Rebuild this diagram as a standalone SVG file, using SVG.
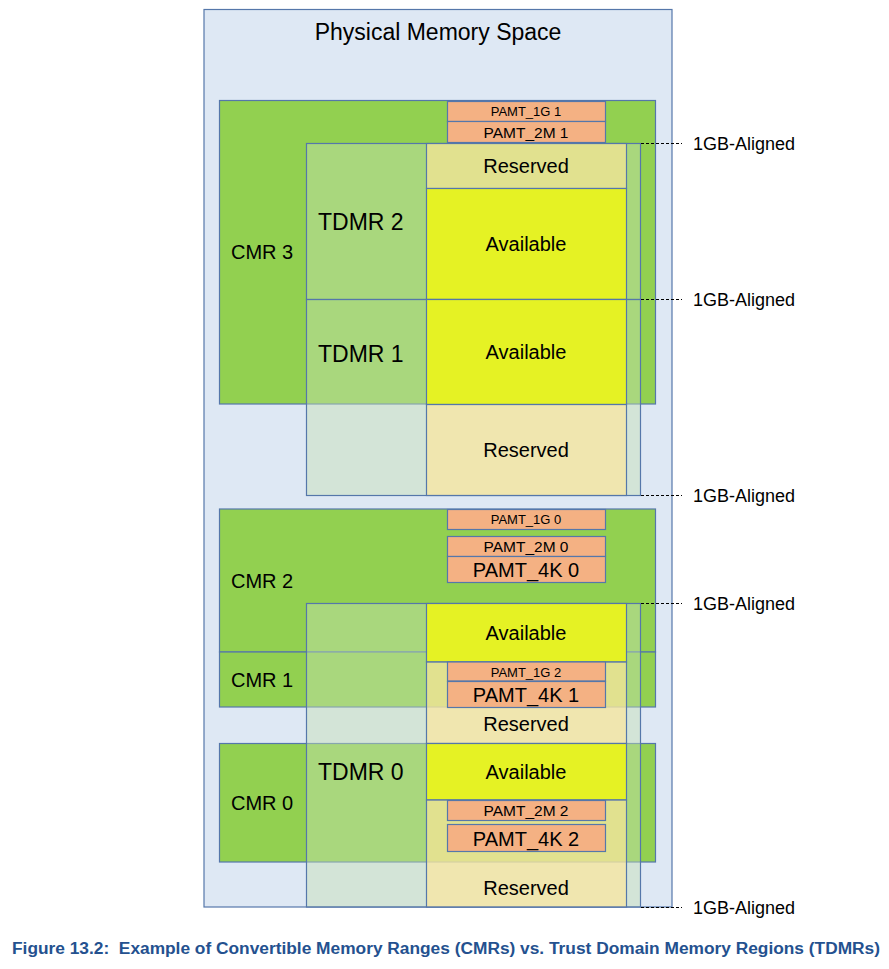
<svg xmlns="http://www.w3.org/2000/svg" width="889" height="969" viewBox="0 0 889 969">
<style>
text{font-family:"Liberation Sans",Arial,sans-serif;fill:#000}
.box{stroke:#5577aa;stroke-width:1.2}
.outer{fill:#dee8f4}
.cmr{fill:#92d050}
.pamt{fill:#f4b183}
.tdmr{fill:#c5e0b4;fill-opacity:0.45}
.res{fill:#ffe699;fill-opacity:0.65}
.avail{fill:#e5f224}
.dash{stroke:#000;stroke-width:1;stroke-dasharray:3,2}
.lbl{font-size:18px}
.c{text-anchor:middle}
.cap{font-family:"Liberation Sans Narrow","Liberation Sans",Arial,sans-serif;font-weight:bold;fill:#24518f;font-size:16px}
</style>
<rect width="889" height="969" fill="#fff"/>
<g id="physical-memory-space">
<rect class="box outer" x="204" y="9.5" width="468" height="897.5"/>
<text x="438" y="40" class="c" style="font-size:23px">Physical Memory Space</text>
</g>
<g id="cmr3">
<rect class="box cmr" x="219.5" y="100.5" width="436" height="303.5"/>
<text x="231" y="259" style="font-size:20px">CMR 3</text>
</g>
<g id="cmr2">
<rect class="box cmr" x="219.5" y="509" width="436" height="143"/>
<text x="231" y="588" style="font-size:20px">CMR 2</text>
</g>
<g id="cmr1">
<rect class="box cmr" x="219.5" y="652" width="436" height="55"/>
<text x="231" y="687" style="font-size:20px">CMR 1</text>
</g>
<g id="cmr0">
<rect class="box cmr" x="219.5" y="743.5" width="436" height="118.5"/>
<text x="231" y="810" style="font-size:20px">CMR 0</text>
</g>
<g id="pamt-1g-1">
<rect class="box pamt" x="447.5" y="101.5" width="158" height="20"/>
<text x="526" y="116" class="c" style="font-size:13px">PAMT_1G 1</text>
</g>
<g id="pamt-2m-1">
<rect class="box pamt" x="447.5" y="121.5" width="158" height="21"/>
<text x="526" y="138" class="c" style="font-size:15.5px">PAMT_2M 1</text>
</g>
<g id="pamt-1g-0">
<rect class="box pamt" x="447.5" y="509.5" width="158" height="20"/>
<text x="526" y="524" class="c" style="font-size:13px">PAMT_1G 0</text>
</g>
<g id="pamt-2m-0">
<rect class="box pamt" x="447.5" y="536.5" width="158" height="20"/>
<text x="526" y="552" class="c" style="font-size:15.5px">PAMT_2M 0</text>
</g>
<g id="pamt-4k-0">
<rect class="box pamt" x="447.5" y="556.5" width="158" height="26"/>
<text x="526" y="577" class="c" style="font-size:20px">PAMT_4K 0</text>
</g>
<g id="tdmr2">
<rect class="box tdmr" x="306.5" y="143.5" width="334" height="156"/>
<rect class="box res" x="426.5" y="143.5" width="200" height="45"/>
<rect class="box avail" x="426.5" y="188.5" width="200" height="111"/>
<text x="318" y="230" style="font-size:23px">TDMR 2</text>
<text x="526" y="173" class="c" style="font-size:20px">Reserved</text>
<text x="526" y="251" class="c" style="font-size:20px">Available</text>
</g>
<g id="tdmr1">
<rect class="box tdmr" x="306.5" y="299.5" width="334" height="196"/>
<rect class="box avail" x="426.5" y="299.5" width="200" height="105"/>
<rect class="box res" x="426.5" y="404.5" width="200" height="91"/>
<text x="318" y="362" style="font-size:23px">TDMR 1</text>
<text x="526" y="359" class="c" style="font-size:20px">Available</text>
<text x="526" y="457" class="c" style="font-size:20px">Reserved</text>
</g>
<g id="tdmr0">
<rect class="box tdmr" x="306.5" y="603.5" width="334" height="303.5"/>
<rect class="box avail" x="426.5" y="603.5" width="200" height="58.5"/>
<rect class="box res" x="426.5" y="662" width="200" height="81.5"/>
<rect class="box avail" x="426.5" y="743.5" width="200" height="56.5"/>
<rect class="box res" x="426.5" y="800" width="200" height="107"/>
<text x="318" y="780" style="font-size:23px">TDMR 0</text>
<text x="526" y="640" class="c" style="font-size:20px">Available</text>
<text x="526" y="731" class="c" style="font-size:20px">Reserved</text>
<text x="526" y="779" class="c" style="font-size:20px">Available</text>
<text x="526" y="895" class="c" style="font-size:20px">Reserved</text>
</g>
<g id="pamt-1g-2">
<rect class="box pamt" x="447.5" y="662" width="158" height="19"/>
<text x="526" y="677" class="c" style="font-size:13px">PAMT_1G 2</text>
</g>
<g id="pamt-4k-1">
<rect class="box pamt" x="447.5" y="681.5" width="158" height="26"/>
<text x="526" y="702" class="c" style="font-size:20px">PAMT_4K 1</text>
</g>
<g id="pamt-2m-2">
<rect class="box pamt" x="447.5" y="800.5" width="158" height="20"/>
<text x="526" y="816" class="c" style="font-size:15.5px">PAMT_2M 2</text>
</g>
<g id="pamt-4k-2">
<rect class="box pamt" x="447.5" y="824.5" width="158" height="27"/>
<text x="526" y="846" class="c" style="font-size:20px">PAMT_4K 2</text>
</g>
<g id="connectors">
<line class="dash" x1="641" y1="143.5" x2="682" y2="143.5"/>
<line class="dash" x1="641" y1="299.5" x2="682" y2="299.5"/>
<line class="dash" x1="641" y1="495.5" x2="682" y2="495.5"/>
<line class="dash" x1="641" y1="603.5" x2="682" y2="603.5"/>
<line class="dash" x1="641" y1="907.5" x2="682" y2="907.5"/>
</g>
<g id="labels">
<text x="693" y="150" class="lbl">1GB-Aligned</text>
<text x="693" y="306" class="lbl">1GB-Aligned</text>
<text x="693" y="502" class="lbl">1GB-Aligned</text>
<text x="693" y="610" class="lbl">1GB-Aligned</text>
<text x="693" y="914" class="lbl">1GB-Aligned</text>
</g>
<text x="12" y="954" class="cap" xml:space="preserve" textLength="868" lengthAdjust="spacingAndGlyphs">Figure 13.2:  Example of Convertible Memory Ranges (CMRs) vs. Trust Domain Memory Regions (TDMRs)</text>
</svg>
